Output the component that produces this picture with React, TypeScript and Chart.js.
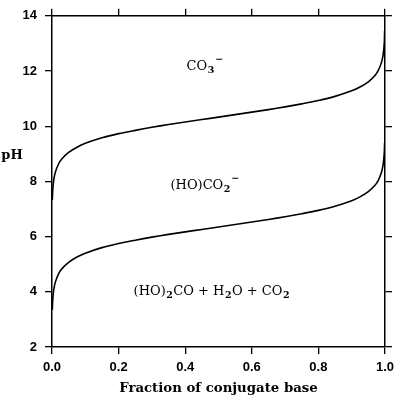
import React, { useEffect, useRef } from "react";
import { Chart, registerables } from "chart.js";

Chart.register(...registerables);

const fraction = [
  0.001, 0.002, 0.005, 0.01, 0.02, 0.03, 0.05, 0.075, 0.1, 0.15, 0.2, 0.25, 0.3,
  0.35, 0.4, 0.45, 0.5, 0.55, 0.6, 0.65, 0.7, 0.75, 0.8, 0.85, 0.9, 0.925, 0.95,
  0.97, 0.98, 0.99, 0.995, 0.998, 0.999,
];
const pHCarbonate = [
  7.33, 7.63, 8.03, 8.33, 8.64, 8.82, 9.05, 9.24, 9.38, 9.58, 9.73, 9.85, 9.96,
  10.06, 10.15, 10.24, 10.33, 10.42, 10.51, 10.6, 10.7, 10.81, 10.93, 11.08, 11.28,
  11.42, 11.61, 11.84, 12.02, 12.33, 12.63, 13.03, 13.45,
];
const pHBicarbonate = [
  3.35, 3.65, 4.05, 4.35, 4.66, 4.84, 5.07, 5.26, 5.4, 5.6, 5.75, 5.87, 5.98,
  6.08, 6.17, 6.26, 6.35, 6.44, 6.53, 6.62, 6.72, 6.83, 6.95, 7.1, 7.3, 7.44,
  7.63, 7.86, 8.04, 8.35, 8.65, 9.05, 9.4,
];
const xTicks = [0, 0.2, 0.4, 0.6, 0.8, 1.0];
const yTicks = [2, 4, 6, 8, 10, 12, 14];
const xTitle = "Fraction of conjugate base";
const yTitle = "pH";

// species labels: [text, offset] where offset 0 = normal, 1 = subscript, -1 = superscript
const speciesLabels = [
  { x: 0.46, y: 12.15, parts: [["CO", 0], ["3", 1], ["\u2212", -1]] },
  { x: 0.46, y: 7.85, parts: [["(HO)CO", 0], ["2", 1], ["\u2212", -1]] },
  {
    x: 0.48,
    y: 4.0,
    parts: [["(HO)", 0], ["2", 1], ["CO + H", 0], ["2", 1], ["O + CO", 0], ["2", 1]],
  },
];

const serif = "'DejaVu Serif', serif";
const sans = "'Liberation Sans', Arial, sans-serif";

const textPlugin = {
  id: "speciesText",
  afterDraw(chart: any) {
    const ctx = chart.ctx;
    const xs = chart.scales.x;
    const ys = chart.scales.y;
    ctx.save();
    ctx.fillStyle = "#000";
    ctx.textBaseline = "middle";
    ctx.textAlign = "left";
    const mainFont = `13px ${serif}`;
    const smallFont = `bold 9.5px ${serif}`;
    for (const lab of speciesLabels) {
      let total = 0;
      for (const [t, o] of lab.parts as any) {
        ctx.font = o === 0 ? mainFont : smallFont;
        total += ctx.measureText(t).width + (o === 0 ? 0 : 1);
      }
      let cx = xs.getPixelForValue(lab.x) - total / 2;
      const cy = ys.getPixelForValue(lab.y);
      for (const [t, o] of lab.parts as any) {
        ctx.font = o === 0 ? mainFont : smallFont;
        const dy = o === 1 ? 4 : o === -1 ? -7 : 0;
        ctx.fillText(t, cx + (o === 0 ? 0 : 0.5), cy + dy);
        cx += ctx.measureText(t).width + (o === 0 ? 0 : 1);
      }
    }
    // horizontal y title
    ctx.font = `bold 13px ${serif}`;
    ctx.textAlign = "center";
    ctx.fillText(yTitle, chart.chartArea.left - 40, ys.getPixelForValue(8.95));
    ctx.restore();
  },
};

export default function App() {
  const ref = useRef<HTMLCanvasElement | null>(null);
  useEffect(() => {
    document.body.style.margin = "0";
    const ctx = ref.current!.getContext("2d")!;
    const tickFont = { family: sans, size: 13, weight: "bold" as const };
    const grid = {
      drawOnChartArea: false,
      drawTicks: true,
      tickLength: 7,
      color: "#000",
      lineWidth: 1.3,
    };
    const border = { display: true, color: "#000", width: 1.5 };
    const chart = new Chart(ctx, {
      type: "line",
      data: {
        datasets: [
          {
            data: fraction.map((f, i) => ({ x: f, y: pHCarbonate[i] })),
            borderColor: "#000",
            borderWidth: 1.6,
            pointRadius: 0,
            tension: 0.3,
            fill: false,
          },
          {
            data: fraction.map((f, i) => ({ x: f, y: pHBicarbonate[i] })),
            borderColor: "#000",
            borderWidth: 1.6,
            pointRadius: 0,
            tension: 0.3,
            fill: false,
          },
        ],
      },
      options: {
        animation: false,
        responsive: true,
        maintainAspectRatio: false,
        layout: { padding: 0 },
        plugins: { legend: { display: false }, tooltip: { enabled: false } },
        scales: {
          x: {
            type: "linear",
            position: "bottom",
            min: 0,
            max: 1,
            afterBuildTicks: (s: any) => {
              s.ticks = xTicks.map((v) => ({ value: v }));
            },
            afterFit: (s: any) => {
              s.height = 50;
            },
            ticks: {
              font: tickFont,
              color: "#000",
              padding: 6,
              maxRotation: 0,
              callback: (v: any) => Number(v).toFixed(1),
            },
            grid,
            border,
            title: {
              display: true,
              text: xTitle,
              font: { family: serif, size: 13.3, weight: "bold" },
              color: "#000",
              padding: { top: 1, bottom: 0 },
            },
          },
          x2: {
            type: "linear",
            position: "top",
            min: 0,
            max: 1,
            afterBuildTicks: (s: any) => {
              s.ticks = xTicks.map((v) => ({ value: v }));
            },
            afterFit: (s: any) => {
              s.height = 12;
            },
            ticks: { display: false },
            grid,
            border,
          },
          y: {
            type: "linear",
            position: "left",
            min: 2,
            max: 14,
            afterBuildTicks: (s: any) => {
              s.ticks = yTicks.map((v) => ({ value: v }));
            },
            afterFit: (s: any) => {
              s.width = 52;
            },
            ticks: { font: tickFont, color: "#000", padding: 8 },
            grid,
            border,
          },
          y2: {
            type: "linear",
            position: "right",
            min: 2,
            max: 14,
            afterBuildTicks: (s: any) => {
              s.ticks = yTicks.map((v) => ({ value: v }));
            },
            afterFit: (s: any) => {
              s.width = 13;
            },
            ticks: { display: false },
            grid,
            border,
          },
        },
      },
      plugins: [textPlugin],
    } as any);
    return () => chart.destroy();
  }, []);
  return (
    <div style={{ position: "absolute", left: 0, top: 0, width: 400, height: 397 }}>
      <canvas ref={ref} />
    </div>
  );
}
